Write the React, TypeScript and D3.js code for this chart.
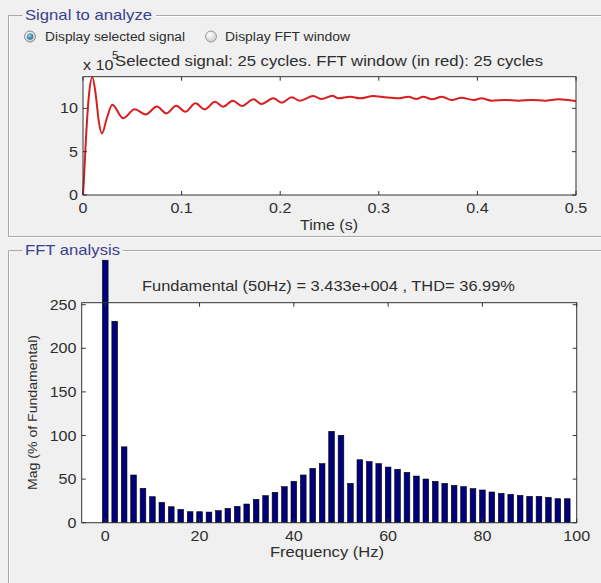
import React from 'react';
import * as d3 from 'd3';

// ---- Data ----
const timeS = [0, 0.001, 0.003, 0.006, 0.0095, 0.013, 0.016, 0.0193, 0.024, 0.0298, 0.0406, 0.0524, 0.0636, 0.075, 0.0845, 0.0946, 0.1038, 0.114, 0.1234, 0.134, 0.142, 0.152, 0.161, 0.173, 0.181, 0.193, 0.2015, 0.2116, 0.22, 0.2336, 0.242, 0.253, 0.259, 0.271, 0.281, 0.2944, 0.306, 0.32, 0.33, 0.338, 0.345, 0.354, 0.364, 0.374, 0.384, 0.396, 0.404, 0.4145, 0.428, 0.4415, 0.455, 0.4686, 0.482, 0.492, 0.5];
const signalE5 = [0, 2, 6.5, 11.5, 13.6, 11.5, 8.5, 7.1, 8.8, 10.4, 8.85, 9.88, 9.3, 10.2, 9.42, 10.3, 9.6, 10.58, 9.88, 10.76, 10.19, 10.88, 10.27, 11.04, 10.5, 11.15, 10.65, 11.27, 10.88, 11.42, 11.07, 11.45, 11.15, 11.34, 11.15, 11.42, 11.27, 11.15, 11.34, 11.07, 11.34, 11.04, 11.34, 10.96, 11.22, 10.96, 11.15, 10.88, 10.96, 10.88, 10.96, 10.88, 11.04, 10.96, 10.84];
const timeTicks = [0, 0.1, 0.2, 0.3, 0.4, 0.5];
const signalTicks = [0, 5, 10];

const freqHz = [0, 2, 4, 6, 8, 10, 12, 14, 16, 18, 20, 22, 24, 26, 28, 30, 32, 34, 36, 38, 40, 42, 44, 46, 48, 50, 52, 54, 56, 58, 60, 62, 64, 66, 68, 70, 72, 74, 76, 78, 80, 82, 84, 86, 88, 90, 92, 94, 96, 98];
const magPct = [301, 231, 87, 54.7, 39.4, 29.8, 23.3, 18.3, 15.3, 12.6, 12.6, 12.2, 13.8, 16.4, 18.7, 21.4, 26.8, 31, 34.8, 41.3, 47.4, 54.7, 62.3, 67.7, 104.7, 100.2, 45.1, 72.2, 70, 67.7, 63.8, 61.2, 57.7, 53.5, 50.1, 47.4, 45.1, 42.8, 41.3, 39, 37.5, 35.2, 33.6, 32.5, 31.3, 30.2, 30.2, 29, 27.5, 27.5];
const freqTicks = [0, 20, 40, 60, 80, 100];
const magTicks = [0, 50, 100, 150, 200, 250];

const FONT = 'Arial, "Liberation Sans", sans-serif';
const TXT = '#2e2e2e';
const BLUE = '#3a3f8f';

type TProps = { x: number; y: number; size: number; anchor?: 'start' | 'middle' | 'end'; sx?: number; fill?: string; children: string };
function T({ x, y, size, anchor = 'start', sx = 1.15, fill = TXT, children }: TProps) {
  return (
    <text transform={`translate(${x},${y}) scale(${sx},1)`} fontSize={size} textAnchor={anchor} fill={fill}>{children}</text>
  );
}

export default function App() {
  // top axes
  const tx = d3.scaleLinear().domain([0, 0.5]).range([83, 576]);
  const ty = d3.scaleLinear().domain([0, 13.65]).range([195, 76.7]);
  const line = d3.line<number>()
    .x((_, i) => tx(timeS[i]))
    .y((d) => ty(d))
    .curve(d3.curveMonotoneX);

  // bottom axes
  const fx = d3.scaleLinear().domain([-5, 100]).range([81.7, 576.7]);
  const fy = d3.scaleLinear().domain([0, 252.3]).range([522.7, 302.7]);
  const bw = (fx(2) - fx(0)) * 0.6;

  const tick = 4;

  return (
    <svg width={601} height={583} style={{ position: 'absolute', left: 0, top: 0, background: '#f0f0f0' }} fontFamily={FONT}>
      <rect x={0} y={0} width={601} height={583} fill="#f0f0f0" />

      {/* panel frames */}
      <g fill="none">
        <path d="M22.5,15.5 H8.5 V236.5 H601" stroke="#a8a8a8" />
        <path d="M9.5,16.5 V235.5" stroke="#ffffff" />
        <path d="M8,237.5 H601" stroke="#ffffff" />
        <path d="M156,15.5 H601" stroke="#a8a8a8" />
        <path d="M156,16.5 H601" stroke="#ffffff" />

        <path d="M22.5,250.5 H8.5 V583" stroke="#a8a8a8" />
        <path d="M9.5,251.5 V583" stroke="#ffffff" />
        <path d="M123,250.5 H601" stroke="#a8a8a8" />
        <path d="M123,251.5 H601" stroke="#ffffff" />
      </g>
      <text x={25} y={20} fontSize={15} fill={BLUE} textLength={127} lengthAdjust="spacingAndGlyphs">Signal to analyze</text>
      <text x={25} y={255} fontSize={15} fill={BLUE} textLength={95} lengthAdjust="spacingAndGlyphs">FFT analysis</text>

      {/* radio buttons */}
      <defs>
        <radialGradient id="rg" cx="0.4" cy="0.35" r="0.7">
          <stop offset="0" stopColor="#ffffff" />
          <stop offset="1" stopColor="#c8c8c8" />
        </radialGradient>
        <radialGradient id="rsel" cx="0.4" cy="0.35" r="0.7">
          <stop offset="0" stopColor="#8fd0e8" />
          <stop offset="1" stopColor="#1c6a8a" />
        </radialGradient>
      </defs>
      <circle cx={30} cy={36.5} r={5.5} fill="url(#rg)" stroke="#8a8a8a" />
      <circle cx={30} cy={36.5} r={3.2} fill="url(#rsel)" />
      <text x={45} y={41} fontSize={12.5} fill={TXT} textLength={140} lengthAdjust="spacingAndGlyphs">Display selected signal</text>
      <circle cx={211} cy={36.5} r={5.5} fill="url(#rg)" stroke="#9a9a9a" />
      <text x={225} y={41} fontSize={12.5} fill={TXT} textLength={125} lengthAdjust="spacingAndGlyphs">Display FFT window</text>

      {/* ---- top axes ---- */}
      <rect x={83} y={76.7} width={493} height={118.3} fill="#ffffff" />
      <path d={line(signalE5) || ''} fill="none" stroke="#d81e1e" strokeWidth={2} />
      <rect x={83} y={76.7} width={493} height={118.3} fill="none" stroke="#333" strokeWidth={1} />
      {timeTicks.map((t) => (
        <g key={'tt' + t}>
          <line x1={tx(t)} x2={tx(t)} y1={195} y2={195 - tick} stroke="#333" />
          <line x1={tx(t)} x2={tx(t)} y1={76.7} y2={76.7 + tick} stroke="#333" />
          <T x={tx(t)} y={212.5} size={14} anchor="middle">{String(t)}</T>
        </g>
      ))}
      {signalTicks.map((v) => (
        <g key={'st' + v}>
          <line x1={83} x2={83 + tick} y1={ty(v)} y2={ty(v)} stroke="#333" />
          <line x1={576} x2={576 - tick} y1={ty(v)} y2={ty(v)} stroke="#333" />
          <T x={78} y={ty(v) + 5} size={14} anchor="end">{String(v)}</T>
        </g>
      ))}
      <T x={83} y={70} size={14}>x 10</T>
      <T x={112} y={59} size={10}>5</T>
      <text x={115} y={66} fontSize={15} fill={TXT} textLength={428} lengthAdjust="spacingAndGlyphs">Selected signal: 25 cycles. FFT window (in red): 25 cycles</text>
      <text x={300} y={230} fontSize={14} fill={TXT} textLength={58} lengthAdjust="spacingAndGlyphs">Time (s)</text>

      {/* ---- bottom axes ---- */}
      <rect x={81.7} y={302.7} width={495} height={220} fill="#ffffff" />
      {freqHz.map((f, i) => (
        <rect key={'b' + f} x={fx(f) - bw / 2} y={fy(magPct[i])} width={bw} height={fy(0) - fy(magPct[i])}
          fill="#00007a" stroke="#000" strokeWidth={0.6} />
      ))}
      <rect x={81.7} y={302.7} width={495} height={220} fill="none" stroke="#333" strokeWidth={1} />
      {freqTicks.map((f) => (
        <g key={'ft' + f}>
          <line x1={fx(f)} x2={fx(f)} y1={522.7} y2={522.7 - tick} stroke="#333" />
          <line x1={fx(f)} x2={fx(f)} y1={302.7} y2={302.7 + tick} stroke="#333" />
          <T x={fx(f)} y={540.5} size={14} anchor="middle">{String(f)}</T>
        </g>
      ))}
      {magTicks.map((v) => (
        <g key={'mt' + v}>
          <line x1={81.7} x2={81.7 + tick} y1={fy(v)} y2={fy(v)} stroke="#333" />
          <line x1={576.7} x2={576.7 - tick} y1={fy(v)} y2={fy(v)} stroke="#333" />
          <T x={76.5} y={fy(v) + 5} size={14} anchor="end">{String(v)}</T>
        </g>
      ))}
      <text x={142} y={291} fontSize={15} fill={TXT} textLength={373} lengthAdjust="spacingAndGlyphs">Fundamental (50Hz) = 3.433e+004 , THD= 36.99%</text>
      <text x={270} y={557} fontSize={14.5} fill={TXT} textLength={114} lengthAdjust="spacingAndGlyphs">Frequency (Hz)</text>
      <text transform="translate(37,490) rotate(-90)" fontSize={13} fill={TXT} textLength={155} lengthAdjust="spacingAndGlyphs">Mag (% of Fundamental)</text>
    </svg>
  );
}
